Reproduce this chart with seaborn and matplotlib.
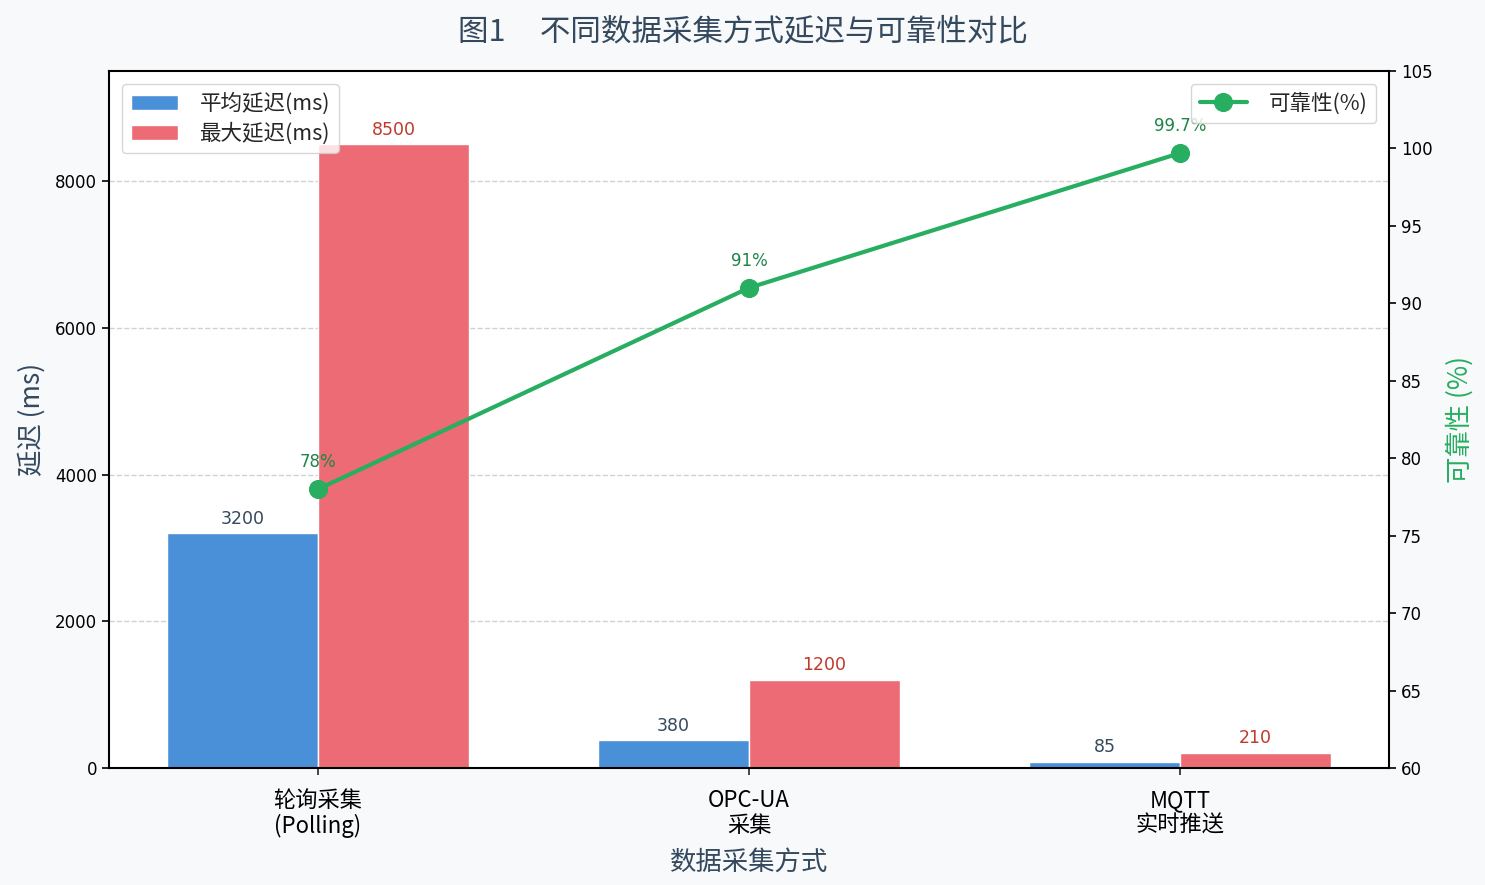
import numpy as np
import pandas as pd
import matplotlib
matplotlib.use("Agg")
import matplotlib.pyplot as plt
import seaborn as sns

categories = ["轮询采集\n(Polling)", "OPC-UA\n采集", "MQTT\n实时推送"]
avg_delay = [3200, 380, 85]
max_delay = [8500, 1200, 210]
reliability = [78, 91, 99.7]
rel_labels = ["78%", "91%", "99.7%"]
series_names = ["平均延迟(ms)", "最大延迟(ms)"]

sns.set_theme(style="white")
plt.rcParams["font.family"] = ["DejaVu Sans", "Noto Sans CJK SC"]
plt.rcParams["axes.unicode_minus"] = False
CJK = ["Noto Sans CJK SC", "DejaVu Sans"]

df = pd.DataFrame({
    "cat": categories * 2,
    "val": avg_delay + max_delay,
    "series": [series_names[0]] * 3 + [series_names[1]] * 3,
})

fig = plt.figure(figsize=(14.85, 8.85), dpi=100, facecolor="#f7f9fb")
ax = fig.add_axes([0.0734, 0.1322, 0.862, 0.7876])
ax.set_facecolor("white")

palette = {series_names[0]: "#4a90d9", series_names[1]: "#ec6b74"}
sns.barplot(data=df, x="cat", y="val", hue="series", palette=palette,
            width=0.7, saturation=1, edgecolor="white", linewidth=1,
            ax=ax, zorder=2)

label_colors = ["#34495e", "#c0392b"]
for cont, col in zip(ax.containers, label_colors):
    ax.bar_label(cont, labels=[f"{int(v)}" for v in cont.datavalues],
                 padding=4, color=col, fontsize=12.5)

ax.set_ylim(0, 9500)
ax.set_yticks([0, 2000, 4000, 6000, 8000])
ax.yaxis.grid(True, linestyle="--", color="#cccccc", linewidth=1, alpha=0.9, zorder=0)
ax.set_axisbelow(True)
ax.set_xlabel("数据采集方式", fontsize=19, color="#34495e", family=CJK, labelpad=8)
ax.set_ylabel("延迟 (ms)", fontsize=19, color="#34495e", family=CJK, labelpad=7)
for lab in ax.get_xticklabels():
    lab.set_family(CJK)
    lab.set_fontsize(16)
    lab.set_color("black")
    lab.set_linespacing(1.1)
ax.tick_params(axis="y", labelsize=12, colors="black", left=True, length=5, width=1.2)
ax.tick_params(axis="x", bottom=True, length=5, width=1.2, pad=10)
for s in ax.spines.values():
    s.set_color("black")
    s.set_linewidth(1.5)

leg1 = ax.legend(loc="upper left", frameon=True, edgecolor="#cccccc",
                 prop={"family": CJK, "size": 15.5},
                 borderpad=0.4, handlelength=2.2, labelspacing=0.35,
                 handletextpad=1.0, borderaxespad=0.6)

ax2 = ax.twinx()
sns.lineplot(x=np.arange(len(categories)), y=reliability, ax=ax2, color="#27ae60",
             linewidth=3, marker="o", markersize=13, markeredgecolor="#27ae60",
             label="可靠性(%)", zorder=5)
ax2.set_ylim(60, 105)
ax2.set_yticks(np.arange(60, 106, 5))
ax2.tick_params(axis="y", labelsize=12, colors="black", right=True, length=5, width=1.2)
ax2.set_ylabel("可靠性 (%)", fontsize=19, color="#27ae60", family=CJK, labelpad=10)
for xi, (yv, lab) in enumerate(zip(reliability, rel_labels)):
    ax2.annotate(lab, (xi, yv), xytext=(0, 13), textcoords="offset points",
                 ha="center", va="bottom", color="#1e8449", fontsize=12)
for s in ax2.spines.values():
    s.set_visible(False)
leg2 = ax2.legend(loc="upper right", frameon=True, edgecolor="#cccccc",
                  prop={"family": CJK, "size": 15.5},
                  borderpad=0.4, handlelength=2.2, handletextpad=1.0,
                  borderaxespad=0.6)

fig.text(0.5, 1 - 32 / 885, "图1     不同数据采集方式延迟与可靠性对比", ha="center", va="center",
         fontsize=22, color="#34495e", family=CJK)

fig.savefig("out.png", dpi=100, facecolor=fig.get_facecolor())
